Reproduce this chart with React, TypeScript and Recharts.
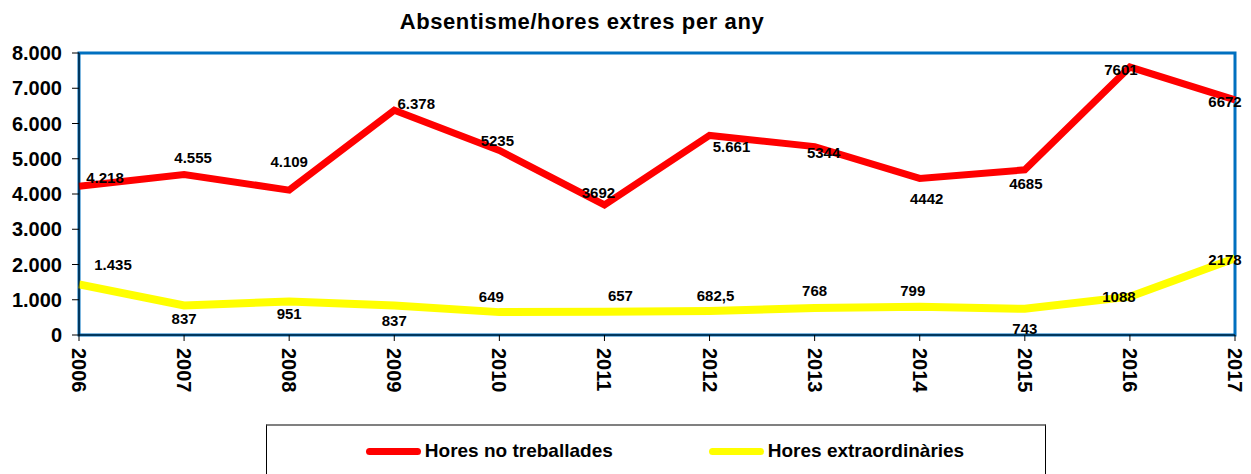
import {
  LineChart,
  Line,
  XAxis,
  YAxis,
  ReferenceArea,
  Legend,
  LabelList,
} from 'recharts'

const years = ['2006', '2007', '2008', '2009', '2010', '2011', '2012', '2013', '2014', '2015', '2016', '2017']
const horesNoTreballades = [4218, 4555, 4109, 6378, 5235, 3692, 5661, 5344, 4442, 4685, 7601, 6672]
const horesExtra = [1435, 837, 951, 837, 649, 657, 682.5, 768, 799, 743, 1088, 2178]
const redLabels = ['4.218', '4.555', '4.109', '6.378', '5235', '3692', '5.661', '5344', '4442', '4685', '7601', '6672']
const yellowLabels = ['1.435', '837', '951', '837', '649', '657', '682,5', '768', '799', '743', '1088', '2178']
const yTicks = [0, 1000, 2000, 3000, 4000, 5000, 6000, 7000, 8000]

// label nudges (dx, dy) so they sit roughly where Excel put them
const redOffsets = [[26, -9], [9, -17], [0, -29], [22, -7], [-2, -10], [-6, -12], [22, 11], [9, 6], [7, 20], [1, 14], [-9, 2], [-10, 2]]
const yellowOffsets = [[34, -20], [0, 13], [0, 12], [0, 15], [-8, -16], [16, -16], [6, -15], [0, -17], [-7, -16], [0, 20], [-11, 0], [-10, 1]]

const FONT = '"Liberation Sans", Arial, sans-serif'

const data = years.map((year, i) => ({
  year,
  noTreb: horesNoTreballades[i],
  extra: horesExtra[i],
}))

const fmtThousands = (v: number) => (v === 0 ? '0' : String(v).replace(/\B(?=(\d{3})+(?!\d))/g, '.'))

function makeLabel(labels: string[], offsets: number[][]) {
  return (props: any) => {
    const { x, y, index } = props
    const [dx, dy] = offsets[index]
    return (
      <text
        x={x + dx}
        y={y + dy}
        textAnchor="middle"
        dominantBaseline="central"
        fontFamily={FONT}
        fontWeight="bold"
        fontSize={15}
        fill="#000"
      >
        {labels[index]}
      </text>
    )
  }
}

function YearTick(props: any) {
  const { x, y, payload } = props
  return (
    <g transform={`translate(${x},${y})`}>
      <text
        transform="rotate(90)"
        textAnchor="start"
        dominantBaseline="central"
        fontFamily={FONT}
        fontWeight="bold"
        fontSize={20}
        fill="#000"
      >
        {payload.value}
      </text>
    </g>
  )
}

function LegendBox() {
  const items = [
    { name: 'Hores no treballades', color: '#ff0000' },
    { name: 'Hores extraordinàries', color: '#ffff00' },
  ]
  return (
    <div
      style={{
        width: 780,
        height: 52,
        boxSizing: 'border-box',
        borderTop: '2px solid #808080',
        borderLeft: '1px solid #000',
        borderRight: '1px solid #000',
        display: 'flex',
        alignItems: 'center',
        justifyContent: 'center',
        gap: 96,
        paddingLeft: 18,
        fontFamily: FONT,
      }}
    >
      {items.map((it) => (
        <div key={it.name} style={{ display: 'flex', alignItems: 'center' }}>
          <span
            style={{
              display: 'inline-block',
              width: 55,
              height: 7,
              borderRadius: 4,
              background: it.color,
              marginRight: 4,
            }}
          />
          <span style={{ fontWeight: 'bold', fontSize: 19, color: '#000' }}>{it.name}</span>
        </div>
      ))}
    </div>
  )
}

export default function App() {
  return (
    <div style={{ position: 'absolute', left: 0, top: 0, width: 1251, height: 474, background: '#fff', overflow: 'hidden' }}>
      <div
        style={{
          position: 'absolute',
          left: 382,
          width: 400,
          top: 9,
          textAlign: 'center',
          fontFamily: FONT,
          fontWeight: 'bold',
          fontSize: 22,
          letterSpacing: 0.6,
          color: '#000',
          zIndex: 2,
        }}
      >
        Absentisme/hores extres per any
      </div>
      <LineChart width={1251} height={474} data={data} margin={{ top: 53, right: 16, left: 0, bottom: 79 }}>
        <ReferenceArea
          x1="2006"
          x2="2017"
          y1={0}
          y2={8000}
          stroke="#0070c0"
          strokeWidth={3}
          fill="none"
          fillOpacity={0}
        />
        <XAxis
          dataKey="year"
          height={60}
          interval={0}
          tick={<YearTick />}
          tickSize={6}
          tickMargin={7}
          axisLine={{ stroke: '#000', strokeWidth: 1 }}
          tickLine={{ stroke: '#000' }}
        />
        <YAxis
          width={79}
          domain={[0, 8000]}
          ticks={yTicks}
          interval={0}
          tickFormatter={fmtThousands}
          tickSize={7}
          tickMargin={10}
          tick={{ fill: '#000', fontSize: 20, fontWeight: 'bold', fontFamily: FONT }}
          axisLine={{ stroke: '#000', strokeWidth: 1 }}
          tickLine={{ stroke: '#000' }}
        />
        <Legend
          layout="horizontal"
          verticalAlign="middle"
          align="center"
          wrapperStyle={{ position: 'absolute', left: 266, top: 424, width: 780, height: 52 }}
          content={() => <LegendBox />}
        />
        <Line
          type="linear"
          dataKey="noTreb"
          stroke="#ff0000"
          strokeWidth={7}
          dot={false}
          activeDot={false}
          isAnimationActive={false}
        >
          <LabelList dataKey="noTreb" content={makeLabel(redLabels, redOffsets)} />
        </Line>
        <Line
          type="linear"
          dataKey="extra"
          stroke="#ffff00"
          strokeWidth={8}
          dot={false}
          activeDot={false}
          isAnimationActive={false}
        >
          <LabelList dataKey="extra" content={makeLabel(yellowLabels, yellowOffsets)} />
        </Line>
      </LineChart>
    </div>
  )
}
